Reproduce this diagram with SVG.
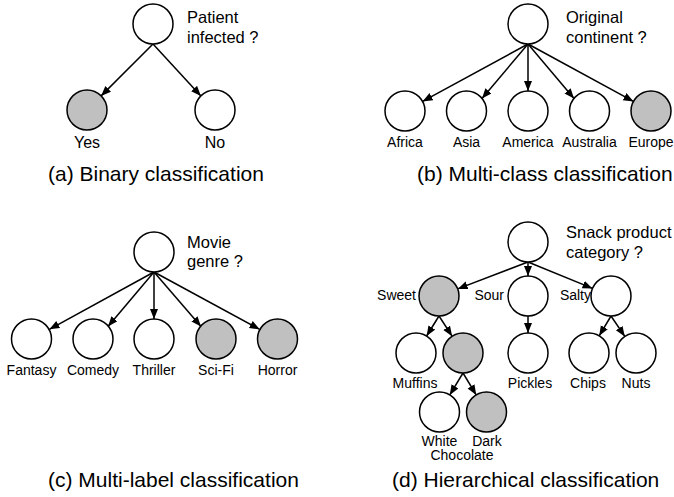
<svg xmlns="http://www.w3.org/2000/svg" width="674" height="497" viewBox="0 0 674 497">
<style>
  text { font-family: "Liberation Sans", Arial, sans-serif; fill: #000; }
  .n { fill: #fff; stroke: #000; stroke-width: 1.5; }
  .g { fill: #c0c0c0; stroke: #000; stroke-width: 1.5; }
  .q { font-size: 16.5px; }
  .la { font-size: 16px; text-anchor: middle; }
  .l { font-size: 14px; text-anchor: middle; }
  .le { font-size: 14px; text-anchor: end; }
  .cap { font-size: 21px; }
  .e line { stroke: #000; stroke-width: 1.5; marker-end: url(#arr); }
</style>
<defs>
  <marker id="arr" markerUnits="userSpaceOnUse" markerWidth="11" markerHeight="9" refX="10" refY="4" orient="auto" viewBox="0 0 11 9">
    <path d="M0,0 L10,4 L0,8 z" fill="#000"/>
  </marker>
</defs>

<g id="connectors" class="e">
  <!-- a -->
  <line x1="153" y1="44" x2="101.1" y2="95.9"/>
  <line x1="153" y1="44" x2="200.9" y2="95.9"/>
  <!-- b -->
  <line x1="528" y1="44" x2="422.6" y2="101.4"/>
  <line x1="528" y1="44" x2="482" y2="98.5"/>
  <line x1="528" y1="44" x2="528" y2="91"/>
  <line x1="528" y1="44" x2="574" y2="98.5"/>
  <line x1="528" y1="44" x2="633.4" y2="101.4"/>
  <!-- c -->
  <line x1="154" y1="272" x2="49.4" y2="329.3"/>
  <line x1="154" y1="272" x2="108" y2="326.4"/>
  <line x1="154" y1="272" x2="154" y2="319"/>
  <line x1="154" y1="272" x2="201" y2="326.4"/>
  <line x1="154" y1="272" x2="259.6" y2="329.3"/>
  <!-- d -->
  <line x1="528" y1="262" x2="457.7" y2="288.9"/>
  <line x1="528" y1="262" x2="528" y2="276"/>
  <line x1="528" y1="262" x2="592.5" y2="288.4"/>
  <line x1="439" y1="316" x2="426.6" y2="336"/>
  <line x1="439" y1="316" x2="452.1" y2="336.2"/>
  <line x1="528" y1="316" x2="528" y2="333"/>
  <line x1="611" y1="316" x2="599.2" y2="335.8"/>
  <line x1="611" y1="316" x2="624.8" y2="336.4"/>
  <line x1="463" y1="373" x2="449.8" y2="394.9"/>
  <line x1="463" y1="373" x2="476.2" y2="394.9"/>
</g>

<!-- Panel a -->
<g id="a-root"><circle class="n" cx="153" cy="24" r="20"/><text class="q" x="187" y="23">Patient</text><text class="q" x="187" y="43">infected ?</text></g>
<g id="a-yes"><circle class="g" cx="87" cy="110" r="20"/><text class="la" x="87" y="148">Yes</text></g>
<g id="a-no"><circle class="n" cx="215" cy="110" r="20"/><text class="la" x="215" y="148">No</text></g>
<text class="cap" x="48" y="181">(a) Binary classification</text>

<!-- Panel b -->
<g id="b-root"><circle class="n" cx="528" cy="24" r="20"/><text class="q" x="566" y="23">Original</text><text class="q" x="566" y="43">continent ?</text></g>
<g id="b-africa"><circle class="n" cx="405" cy="111" r="20"/><text class="l" x="405" y="147">Africa</text></g>
<g id="b-asia"><circle class="n" cx="466.5" cy="111" r="20"/><text class="l" x="466.5" y="147">Asia</text></g>
<g id="b-america"><circle class="n" cx="528" cy="111" r="20"/><text class="l" x="528" y="147">America</text></g>
<g id="b-australia"><circle class="n" cx="589.5" cy="111" r="20"/><text class="l" x="589.5" y="147">Australia</text></g>
<g id="b-europe"><circle class="g" cx="651" cy="111" r="20"/><text class="l" x="651" y="147">Europe</text></g>
<text class="cap" x="417" y="181">(b) Multi-class classification</text>

<!-- Panel c -->
<g id="c-root"><circle class="n" cx="154" cy="252" r="20"/><text class="q" x="187" y="248">Movie</text><text class="q" x="187" y="267">genre ?</text></g>
<g id="c-fantasy"><circle class="n" cx="31.5" cy="339" r="20"/><text class="l" x="31.5" y="375">Fantasy</text></g>
<g id="c-comedy"><circle class="n" cx="93" cy="339" r="20"/><text class="l" x="93" y="375">Comedy</text></g>
<g id="c-thriller"><circle class="n" cx="154" cy="339" r="20"/><text class="l" x="154" y="375">Thriller</text></g>
<g id="c-scifi"><circle class="g" cx="216" cy="339" r="20"/><text class="l" x="216" y="375">Sci-Fi</text></g>
<g id="c-horror"><circle class="g" cx="277.5" cy="339" r="20"/><text class="l" x="277.5" y="375">Horror</text></g>
<text class="cap" x="48" y="487">(c) Multi-label classification</text>

<!-- Panel d -->
<g id="d-root"><circle class="n" cx="528" cy="242" r="20"/><text class="q" x="566" y="238">Snack product</text><text class="q" x="566" y="258">category ?</text></g>
<g id="d-sweet"><circle class="g" cx="439" cy="296" r="20"/><text class="le" x="416" y="300">Sweet</text></g>
<g id="d-sour"><circle class="n" cx="528" cy="296" r="20"/><text class="le" x="504" y="300">Sour</text></g>
<g id="d-salty"><circle class="n" cx="611" cy="296" r="20"/><text class="le" x="591" y="300">Salty</text></g>
<g id="d-muffins"><circle class="n" cx="416" cy="353" r="20"/><text class="l" x="415" y="388">Muffins</text></g>
<g id="d-chocolate"><circle class="g" cx="463" cy="353" r="20"/><text class="l" x="462" y="460">Chocolate</text></g>
<g id="d-pickles"><circle class="n" cx="528" cy="353" r="20"/><text class="l" x="530" y="388">Pickles</text></g>
<g id="d-chips"><circle class="n" cx="589" cy="353" r="20"/><text class="l" x="588" y="388">Chips</text></g>
<g id="d-nuts"><circle class="n" cx="636" cy="353" r="20"/><text class="l" x="636" y="388">Nuts</text></g>
<g id="d-white"><circle class="n" cx="439.5" cy="412" r="20"/><text class="l" x="439.5" y="446">White</text></g>
<g id="d-dark"><circle class="g" cx="486.5" cy="412" r="20"/><text class="l" x="487" y="446">Dark</text></g>
<text class="cap" x="392" y="487">(d) Hierarchical classification</text>
</svg>
